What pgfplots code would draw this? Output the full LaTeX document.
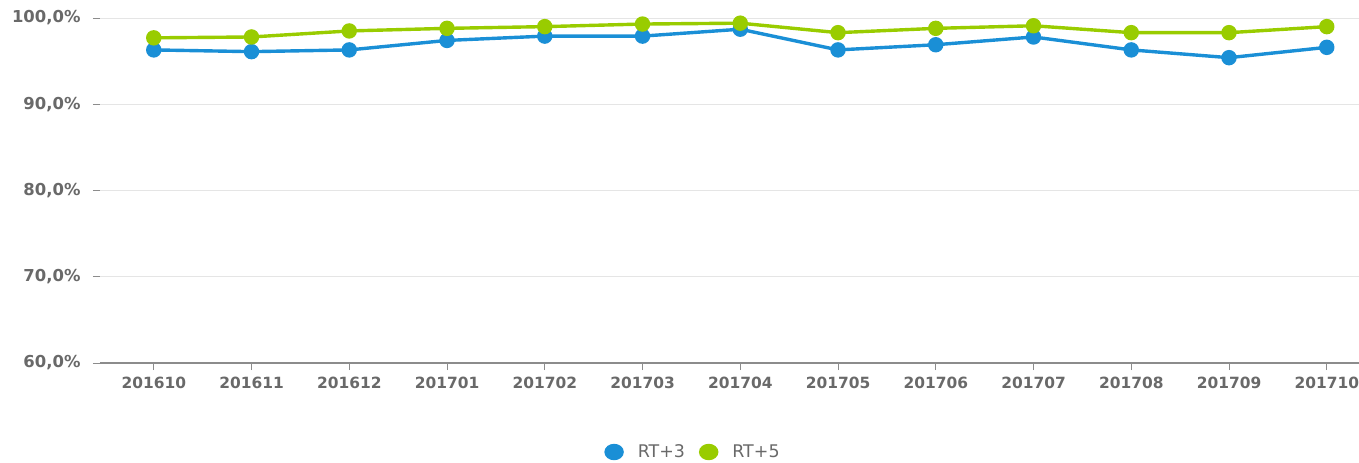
\documentclass[border=0pt]{standalone}
\usepackage{pgfplots}
\pgfplotsset{compat=1.18}
\usepackage{fontspec}
\setmainfont{DejaVu Sans}
\definecolor{rtblue}{RGB}{26,143,214}
\definecolor{rtgreen}{RGB}{153,204,0}
\definecolor{lblgray}{RGB}{105,105,105}
\begin{document}
\begin{tikzpicture}
\begin{axis}[
  scale only axis, width=1259bp, height=345bp,
  xmin=-0.55, xmax=12.33, ymin=60, ymax=100,
  xtick={0,...,12},
  xticklabels={201610,201611,201612,201701,201702,201703,201704,201705,201706,201707,201708,201709,201710},
  ytick={60,70,80,90,100},
  /pgf/number format/assume math mode=true,
  yticklabel={\pgfmathprintnumber[fixed,fixed zerofill,precision=1,use comma]{\tick}\%},
  axis lines*=left,
  y axis line style={draw=none},
  x axis line style={draw=black!45, line width=1.6bp},
  ymajorgrids, grid style={black!10, line width=0.8bp},
  tick align=outside, major tick length=7bp,
  tick style={draw=black!45, line width=1bp},
  ticklabel style={font=\fontsize{15.5}{16}\selectfont\bfseries, text=lblgray},
  xticklabel style={yshift=-4bp},
  yticklabel style={xshift=-9bp, font=\fontsize{16.5}{17}\selectfont\bfseries},
  legend style={at={(0.471,-0.258)}, anchor=center, draw=none, fill=none,
    font=\fontsize{17.5}{18}\selectfont, text=lblgray, column sep=12bp},
  legend columns=2,
  legend image code/.code={\fill[#1] (0.3cm,0cm) ellipse (8bp and 6.5bp);},
]
\addplot[rtblue, line width=3.4bp, mark=*, mark size=6bp, mark options={fill=rtblue, draw=rtblue}] coordinates {
(0,96.3) (1,96.1) (2,96.3) (3,97.4) (4,97.9) (5,97.9) (6,98.7) (7,96.3) (8,96.9) (9,97.8) (10,96.3) (11,95.4) (12,96.6)};
\addlegendentry{RT+3}
\addplot[rtgreen, line width=3.4bp, mark=*, mark size=6bp, mark options={fill=rtgreen, draw=rtgreen}] coordinates {
(0,97.7) (1,97.8) (2,98.5) (3,98.8) (4,99.0) (5,99.3) (6,99.4) (7,98.3) (8,98.8) (9,99.1) (10,98.3) (11,98.3) (12,99.0)};
\addlegendentry{RT+5}
\end{axis}
\pgfresetboundingbox
\path[use as bounding box] (-100bp,-100bp) rectangle (1259bp,363bp);
\end{tikzpicture}
\end{document}
